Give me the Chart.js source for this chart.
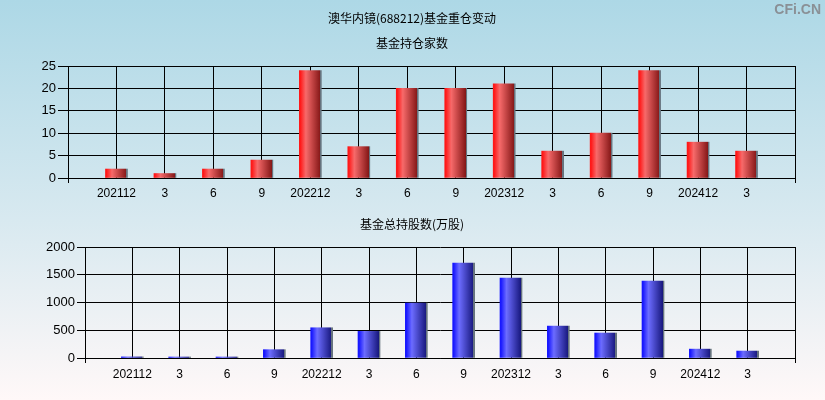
<!DOCTYPE html>
<html>
<head>
<meta charset="utf-8">
<script src="https://cdn.jsdelivr.net/npm/chart.js@4/dist/chart.umd.min.js"></script>
<style>
  html, body { margin: 0; padding: 0; }
  body {
    width: 825px; height: 400px; position: relative; overflow: hidden;
    background: linear-gradient(to bottom, #add8e6 0%, #d8e9f0 55%, #fff8f8 100%);
  }
  .box { position: absolute; left: 0; width: 825px; height: 200px; }
  #top { top: 0; }
  #bottom { top: 200px; }
  #mark {
    position: absolute; right: 4px; top: 1px; font: bold 14px "Liberation Sans", Arial, sans-serif;
    color: #8a9096;
  }
</style>
</head>
<body>
<div class="box" id="top"><canvas id="c1" width="825" height="200"></canvas></div>
<div class="box" id="bottom"><canvas id="c2" width="825" height="200"></canvas></div>
<div id="mark">CFi.CN</div>
<script>
// quarters shown on the x axis
var periods = ['202112', '3', '6', '9', '202212', '3', '6', '9', '202312', '3', '6', '9', '202412', '3'];
// number of funds holding
var fundCount = [2, 1, 2, 4, 24, 7, 20, 20, 21, 6, 10, 24, 8, 6];
// total shares held by funds (10k shares)
var fundShares = [20, 18, 18, 150, 545, 480, 990, 1710, 1440, 575, 450, 1385, 160, 125];
var countTicks = [0, 5, 10, 15, 20, 25];
var shareTicks = [0, 500, 1000, 1500, 2000];

var FONT = '"Liberation Sans", Arial, sans-serif';
var CJK = '"Noto Sans CJK SC", sans-serif';

// empty slot on both sides of the axis
var axisLabels = [''].concat(periods, ['']);
function pad(arr) { return [null].concat(arr, [null]); }

function barFill(c1, c2, c3) {
  return function(ctx) {
    var chart = ctx.chart;
    var xs = chart.scales && chart.scales.x;
    if (!xs || ctx.dataIndex === undefined) return c1;
    var cx = xs.getPixelForValue(ctx.dataIndex);
    if (!isFinite(cx)) return c1;
    var g = chart.ctx.createLinearGradient(cx - 10, 0, cx + 12, 0);
    g.addColorStop(0, c1);
    g.addColorStop(0.25, c2);
    g.addColorStop(0.9, c3);
    g.addColorStop(0.9, '#66737e');
    g.addColorStop(1, '#66737e');
    return g;
  };
}

var titles = {
  id: 'titles',
  afterDraw: function(chart, args, opts) {
    var ctx = chart.ctx;
    ctx.save();
    ctx.fillStyle = '#000';
    ctx.font = '12px ' + CJK;
    ctx.textAlign = 'center';
    ctx.textBaseline = 'middle';
    opts.lines.forEach(function(l) { ctx.fillText(l[0], 412, l[1]); });
    ctx.restore();
  }
};

function makeChart(id, values, ticks, colors, cfg) {
  var last = axisLabels.length - 1;
  return new Chart(document.getElementById(id), {
    type: 'bar',
    data: {
      labels: axisLabels,
      datasets: [{
        data: pad(values),
        backgroundColor: barFill(colors[0], colors[1], colors[2]),
        borderWidth: 0,
        barThickness: 22
      }]
    },
    plugins: [titles],
    options: {
      responsive: false,
      animation: false,
      events: [],
      layout: { padding: { top: cfg.top, right: 30, left: 0, bottom: 0 } },
      plugins: {
        legend: { display: false },
        tooltip: { enabled: false },
        titles: { lines: cfg.titles }
      },
      scales: {
        x: {
          offset: false,
          afterFit: function(s) { s.height = cfg.xHeight; },
          grid: {
            offset: false,
            color: '#000',
            lineWidth: 1,
            tickLength: 5,
            tickColor: function(c) { return (c.index === 0 || c.index === last) ? '#000' : 'rgba(0,0,0,0)'; }
          },
          border: { color: '#000' },
          ticks: { autoSkip: false, maxRotation: 0, padding: cfg.xPad, color: '#000', font: { family: FONT, size: 12 } }
        },
        y: {
          min: 0,
          max: ticks[ticks.length - 1],
          afterFit: function(s) { s.width = cfg.left; },
          afterBuildTicks: function(s) { s.ticks = ticks.map(function(v) { return { value: v }; }); },
          grid: { color: '#000', lineWidth: 1, tickLength: cfg.yTick },
          border: { color: '#000' },
          ticks: {
            padding: 2, color: '#000', font: { family: FONT, size: 13 },
            callback: function(v) { return String(v); }
          }
        }
      }
    }
  });
}

makeChart('c1', fundCount, countTicks, ['#ff1818', '#f76a6a', '#861818'], {
  top: 66, left: 68, xHeight: 22, xPad: 3, yTick: 10,
  titles: [['澳华内镜(688212)基金重仓变动', 18], ['基金持仓家数', 43]]
});
makeChart('c2', fundShares, shareTicks, ['#1818ff', '#6c6cff', '#18187e'], {
  top: 47, left: 85, xHeight: 42, xPad: 4, yTick: 8,
  titles: [['基金总持股数(万股)', 24]]
});
</script>
</body>
</html>
